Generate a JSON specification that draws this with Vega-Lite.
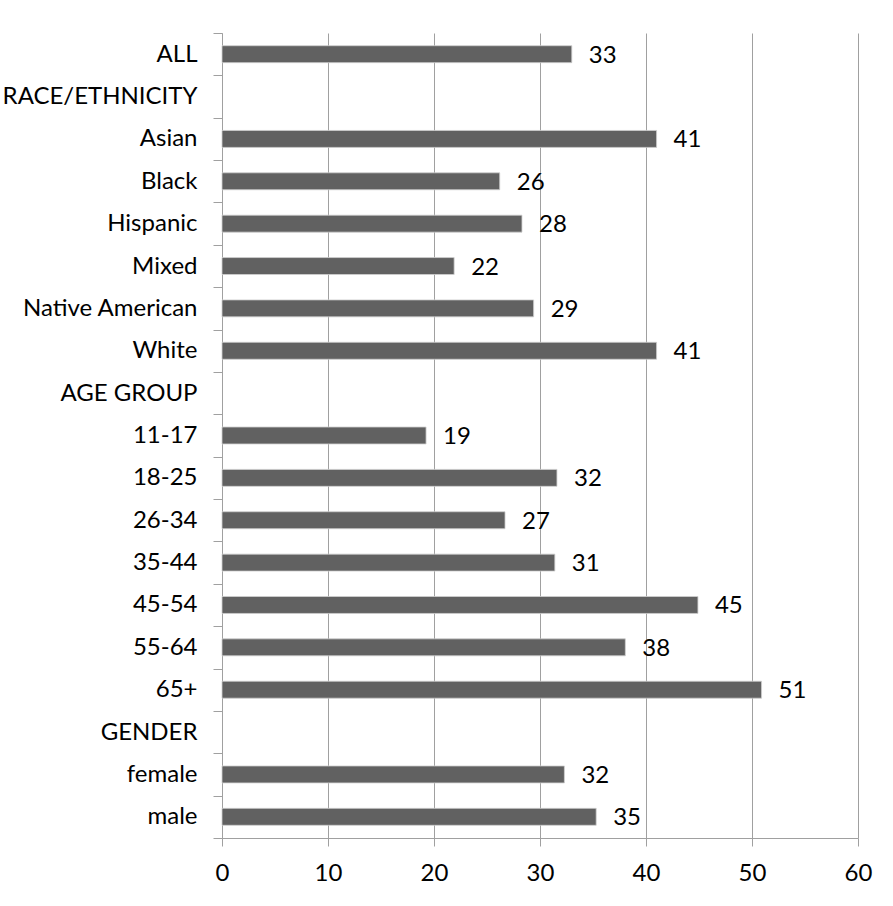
{
  "$schema": "https://vega.github.io/schema/vega-lite/v6.json",
  "autosize": "none",
  "width": 636,
  "height": 805,
  "padding": {"left": 222, "top": 33, "right": 35, "bottom": 68},
  "background": "white",
  "config": {"view": {"stroke": null}, "font": "Lato"},
  "data": {
    "values": [
      {"cat": "ALL", "value": 33.0},
      {"cat": "RACE/ETHNICITY", "value": null},
      {"cat": "Asian", "value": 41.0},
      {"cat": "Black", "value": 26.2},
      {"cat": "Hispanic", "value": 28.3},
      {"cat": "Mixed", "value": 21.9},
      {"cat": "Native American", "value": 29.4},
      {"cat": "White", "value": 41.0},
      {"cat": "AGE GROUP", "value": null},
      {"cat": "11-17", "value": 19.25},
      {"cat": "18-25", "value": 31.6},
      {"cat": "26-34", "value": 26.7},
      {"cat": "35-44", "value": 31.4},
      {"cat": "45-54", "value": 44.9},
      {"cat": "55-64", "value": 38.05},
      {"cat": "65+", "value": 50.9},
      {"cat": "GENDER", "value": null},
      {"cat": "female", "value": 32.3},
      {"cat": "male", "value": 35.3}
    ]
  },
  "transform": [{"filter": "datum.value != null"}],
  "encoding": {
    "y": {
      "field": "cat",
      "type": "nominal",
      "sort": null,
      "scale": {
        "domain": ["ALL", "RACE/ETHNICITY", "Asian", "Black", "Hispanic", "Mixed", "Native American", "White", "AGE GROUP", "11-17", "18-25", "26-34", "35-44", "45-54", "55-64", "65+", "GENDER", "female", "male"],
        "paddingInner": 0,
        "paddingOuter": 0
      },
      "axis": {
        "title": null,
        "tickBand": "extent",
        "domainColor": "#a0a0a0",
        "tickColor": "#a0a0a0",
        "tickSize": 9,
        "labelColor": "#000000",
        "labelFont": "Lato",
        "labelFontSize": 24,
        "labelPadding": 16,
        "labelLimit": 400,
        "grid": false
      }
    },
    "x": {
      "field": "value",
      "type": "quantitative",
      "scale": {"domain": [0, 60], "nice": false},
      "axis": {
        "title": null,
        "values": [0, 10, 20, 30, 40, 50, 60],
        "grid": true,
        "gridColor": "#a0a0a0",
        "gridWidth": 1,
        "domainColor": "#a0a0a0",
        "tickColor": "#a0a0a0",
        "tickSize": 8,
        "labelColor": "#000000",
        "labelFont": "Lato",
        "labelFontSize": 24,
        "labelPadding": 15,
        "labelFlush": false
      }
    }
  },
  "layer": [
    {
      "mark": {"type": "bar", "color": "#616161", "stroke": "#cfcfcf", "strokeWidth": 0.8, "height": {"band": 0.4}}
    },
    {
      "mark": {"type": "text", "align": "left", "baseline": "middle", "dx": 17, "dy": 1.5, "font": "Lato", "fontSize": 24, "color": "#000000"},
      "encoding": {"text": {"field": "value", "type": "quantitative", "format": ".0f"}}
    }
  ]
}
